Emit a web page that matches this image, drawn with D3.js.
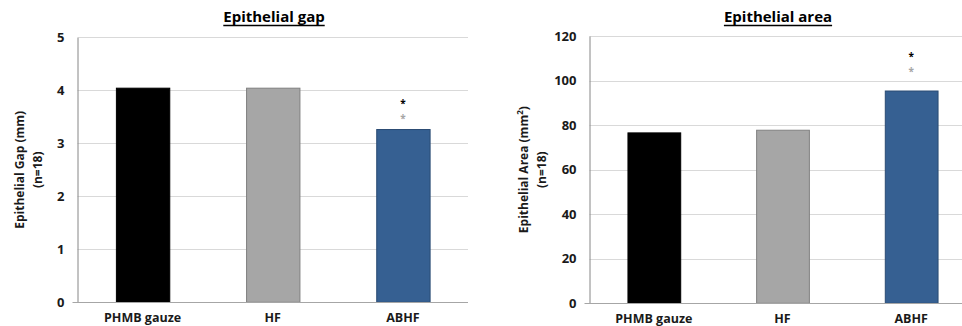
<!DOCTYPE html>
<html>
<head>
<meta charset="utf-8">
<script src="https://cdn.jsdelivr.net/npm/d3@7"></script>
<style>
  body { margin: 0; background: #fff; }
  svg { display: block; }
  svg text { font-family: "Open Sans", "Noto Sans", sans-serif; font-weight: 700; }
</style>
</head>
<body>
<div id="chart"></div>
<script>
// chart data
const categories = ["PHMB gauze", "HF", "ABHF"];
const gapValues = [4.04, 4.04, 3.26];
const areaValues = [76.5, 77.7, 95.3];
const gapTicks = [0, 1, 2, 3, 4, 5];
const areaTicks = [0, 20, 40, 60, 80, 100, 120];
const barFill = ["#000000", "#a6a6a6", "#366092"];
const barStroke = ["#000000", "#808080", "#2a4b73"];

const svg = d3.select("#chart")
  .append("svg")
  .attr("width", 962)
  .attr("height", 326);

function drawPanel(opts) {
  const { left, right, top, bottom, values, ticks, title, titleX, yTitle, titleLineX, starGap } = opts;

  const x = d3.scaleBand()
    .domain(categories)
    .range([left, right])
    .paddingInner(0.59)
    .paddingOuter(0.295);

  const y = d3.scaleLinear()
    .domain([0, d3.max(ticks)])
    .range([bottom, top]);

  const g = svg.append("g");

  // gridlines
  g.append("g")
    .selectAll("line")
    .data(ticks)
    .enter()
    .append("line")
    .attr("x1", left)
    .attr("x2", right)
    .attr("y1", d => Math.round(y(d)) + 0.5)
    .attr("y2", d => Math.round(y(d)) + 0.5)
    .attr("stroke", "#d9d9d9")
    .attr("stroke-width", 1);

  // y axis
  const yAxis = g.append("g")
    .attr("transform", `translate(${left},0)`)
    .call(d3.axisLeft(y).tickValues(ticks).tickFormat(d3.format("d")).tickSize(0).tickPadding(13));
  yAxis.select(".domain").attr("stroke", "#868686");
  yAxis.selectAll("text")
    .attr("font-size", 13)
    .attr("fill", "#1a1a1a");

  // bars
  g.append("g")
    .selectAll("rect")
    .data(values)
    .enter()
    .append("rect")
    .attr("x", (d, i) => x(categories[i]) + 0.5)
    .attr("y", d => y(d))
    .attr("width", x.bandwidth())
    .attr("height", d => y(0) - y(d))
    .attr("fill", (d, i) => barFill[i])
    .attr("stroke", (d, i) => barStroke[i])
    .attr("stroke-width", 1);

  // x axis baseline
  g.append("line")
    .attr("x1", left - 5)
    .attr("x2", right)
    .attr("y1", Math.round(y(0)) + 0.5)
    .attr("y2", Math.round(y(0)) + 0.5)
    .attr("stroke", "#a6a6a6");

  // category labels
  g.append("g")
    .selectAll("text")
    .data(categories)
    .enter()
    .append("text")
    .attr("x", d => x(d) + x.bandwidth() / 2)
    .attr("y", bottom + 20)
    .attr("text-anchor", "middle")
    .attr("font-size", 12.5)
    .attr("fill", "#1a1a1a")
    .text(d => d);

  // significance stars above ABHF
  const starX = x("ABHF") + x.bandwidth() / 2;
  const barTop = y(values[2]);
  g.append("text")
    .attr("x", starX)
    .attr("y", barTop - starGap[0] + 5.5)
    .attr("text-anchor", "middle")
    .attr("font-size", 10)
    .attr("fill", "#a6a6a6")
    .text("*");
  g.append("text")
    .attr("x", starX)
    .attr("y", barTop - starGap[1] + 5.5)
    .attr("text-anchor", "middle")
    .attr("font-size", 10)
    .attr("fill", "#000")
    .text("*");

  // title with underline
  const t = g.append("text")
    .attr("x", titleX)
    .attr("y", 22)
    .attr("text-anchor", "middle")
    .attr("font-size", 15)
    .attr("fill", "#000")
    .text(title);
  const bb = t.node().getBBox();
  g.append("line")
    .attr("x1", bb.x)
    .attr("x2", bb.x + bb.width)
    .attr("y1", 25.5)
    .attr("y2", 25.5)
    .attr("stroke", "#000")
    .attr("stroke-width", 1.4);

  // y axis title (two lines, rotated)
  const cy = (top + bottom) / 2;
  yTitle.forEach((line, i) => {
    const tt = g.append("text")
      .attr("transform", `translate(${titleLineX[i]},${cy}) rotate(-90)`)
      .attr("text-anchor", "middle")
      .attr("font-size", 12)
      .attr("fill", "#1a1a1a");
    line.forEach(part => {
      const span = tt.append("tspan").text(part.text);
      if (part.sup) span.attr("font-size", 8).attr("dy", -5);
      if (part.after) span.attr("dy", 5);
    });
  });
}

drawPanel({
  left: 77.5, right: 468, top: 37.3, bottom: 302.3,
  values: gapValues, ticks: gapTicks,
  title: "Epithelial gap", titleX: 274,
  yTitle: [[{ text: "Epithelial Gap (mm)" }], [{ text: "(n=18)" }]],
  titleLineX: [23.5, 41.5],
  starGap: [12.6, 27.6]
});

drawPanel({
  left: 589.5, right: 975.5, top: 36, bottom: 303.3,
  values: areaValues, ticks: areaTicks,
  title: "Epithelial area", titleX: 778,
  yTitle: [[{ text: "Epithelial Area (mm" }, { text: "2", sup: true }, { text: ")", after: true }], [{ text: "(n=18)" }]],
  titleLineX: [528, 546],
  starGap: [21.3, 36.7]
});
</script>
</body>
</html>
